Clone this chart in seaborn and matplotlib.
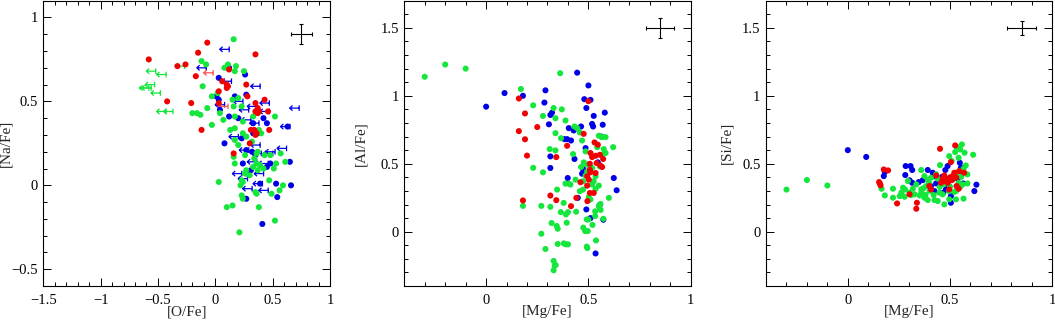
import numpy as np
import pandas as pd
import matplotlib
matplotlib.use("Agg")
import matplotlib.pyplot as plt
from matplotlib.path import Path
from matplotlib.ticker import MultipleLocator, FuncFormatter
import seaborn as sns

# ---------------- data ----------------
# Panel 1: [O/Fe] vs [Na/Fe]
o_red = [-0.58,-0.07,-0.15,-0.26,-0.33,-0.17,0.35,-0.42,-0.21,-0.12,0.03,0.03,0.12,0.06,0.10,0.11,0.10,0.27,0.28,0.35,0.43,0.37,0.38,0.37,0.46,0.35,0.47,0.31,0.34,0.36,0.35,0.30,0.16]
na_red = [0.75,0.85,0.79,0.72,0.71,0.65,0.78,0.50,0.49,0.33,0.56,0.49,0.69,0.62,0.60,0.59,0.58,0.60,0.53,0.49,0.51,0.46,0.44,0.43,0.44,0.44,0.33,0.33,0.33,0.31,0.30,0.25,0.19]
o_red_lim = [-0.06, 0.07]
na_red_lim = [0.67, 0.47]

o_green = [0.16,-0.12,-0.08,0.11,0.18,0.08,0.25,0.17,-0.11,-0.03,
           0.02,-0.07,-0.20,-0.16,-0.13,-0.03,0.07,0.04,0.15,0.20,
           0.16,0.23,0.17,0.13,0.17,0.24,0.24,0.17,0.20,0.27,
           0.33,0.38,0.40,0.32,0.16,0.17,0.26,0.37,0.43,0.48,
           0.57,0.52,0.53,0.61,0.51,0.36,0.39,0.42,0.37,0.33,
           0.27,0.26,0.30,0.23,0.24,0.22,0.47,0.59,0.56,0.49,
           0.35,0.36,0.23,0.24,0.03,0.15,0.10,0.38,0.52,0.21,
           0.36,0.34]
na_green = [0.87,0.74,0.72,0.72,0.71,0.70,0.68,0.68,0.59,0.53,
            0.55,0.46,0.43,0.43,0.42,0.36,0.39,0.43,0.51,0.52,
            0.47,0.47,0.41,0.33,0.34,0.38,0.31,0.27,0.24,0.29,
            0.41,0.33,0.31,0.26,0.17,0.13,0.18,0.20,0.18,0.18,
            0.19,0.41,0.13,0.14,0.10,0.13,0.12,0.10,0.09,0.11,
            0.09,0.07,0.06,0.03,0.02,0.00,0.03,0.00,-0.03,-0.05,
            -0.04,-0.05,-0.06,-0.08,0.02,-0.12,-0.13,-0.13,-0.21,-0.28,
            0.19,0.16]
o_green_lim = [-0.56,-0.47,-0.31,-0.57,-0.62,-0.60,-0.52,-0.47,-0.41]
na_green_lim = [0.68,0.66,0.71,0.60,0.58,0.58,0.55,0.44,0.44]

o_blue = [0.03,0.26,0.12,0.01,0.03,0.04,0.17,0.27,0.12,0.20,
          0.42,0.45,0.33,0.08,0.23,0.27,0.32,0.35,0.24,0.28,
          0.31,0.48,0.65,0.63,0.33,0.37,0.66,0.53,0.54,0.27,
          0.41,0.39,0.45]
na_blue = [0.64,0.66,0.70,0.53,0.51,0.45,0.53,0.54,0.41,0.40,
           0.40,0.37,0.37,0.25,0.28,0.21,0.20,0.18,0.13,0.07,
           0.09,0.13,0.14,0.35,0.31,0.31,0.00,0.01,-0.07,-0.08,
           -0.23,0.01,0.11]
o_blue_lim = [0.08,-0.12,0.35,0.10,0.20,0.04,0.25,0.43,0.43,0.69,
              0.27,0.34,0.32,0.61,0.16,0.35,0.58,0.25,0.36,0.46,
              0.32,0.19,0.24,0.38,0.28,0.37,0.42,0.48,0.42]
na_blue_lim = [0.81,0.70,0.59,0.62,0.50,0.48,0.45,0.49,0.44,0.46,
               0.39,0.37,0.47,0.35,0.29,0.24,0.22,0.21,0.19,0.19,
               0.14,0.07,0.04,0.07,-0.02,0.01,-0.03,0.20,0.13]

# Panel 2: [Mg/Fe] vs [Al/Fe]
mg_green2 = [0.278,0.339,0.388,0.432,0.445,0.458,0.469,0.339,0.366,0.311,
             0.339,0.425,0.486,0.551,0.567,0.584,0.543,0.575,0.584,0.567,
             0.621,0.477,0.494,0.464,0.556,0.518,0.494,0.486,0.535,0.278,
             0.437,0.388,0.404,0.412,0.474,0.526,0.551,0.518,0.347,0.458,
             0.474,0.535,0.502,0.510,0.600,0.379,0.314,0.551,0.559,
             -0.30,-0.20,-0.10,0.17,0.362,0.23,0.33,0.37,0.23,0.18,0.27,
             0.365,0.39,0.40,0.394,0.44,0.32,0.345,0.35,0.27,0.29,
             0.35,0.38,0.39,0.40,0.33,0.335,0.34,0.33,0.475,0.484,
             0.497,0.492,0.50,0.492,0.495,0.537,0.52,0.533,0.533,0.553,
             0.56,0.573]
al_green2 = [0.852,0.835,0.818,0.774,0.762,0.730,0.671,0.725,0.688,0.608,
             0.598,0.571,0.591,0.706,0.696,0.696,0.622,0.608,0.579,0.566,
             0.622,0.510,0.493,0.476,0.481,0.469,0.444,0.412,0.408,0.437,
             0.383,0.354,0.354,0.347,0.371,0.371,0.339,0.347,0.310,0.298,
             0.310,0.315,0.256,0.237,0.249,0.212,0.183,0.188,0.205,
             1.14,1.23,1.20,1.05,1.166,0.93,0.91,0.90,0.47,0.19,0.19,
             0.144,0.127,0.144,0.066,0.147,0.064,0.042,0.022,-0.015,-0.127,
             -0.09,-0.086,-0.093,-0.093,-0.215,-0.25,-0.245,-0.284,0.03,0.005,
             0.005,0.09,0.09,-0.11,-0.12,-0.064,0.05,0.115,0.15,0.183,
             0.16,0.095]
mg_blue2 = [0.322,0.314,0.526,0.580,0.464,0.404,0.428,0.518,0.523,0.383,
            0.396,0.415,0.486,0.314,0.432,0.474,0.469,0.399,0.624,0.638,
            0.448,0.314,0.546,
            0.535,0.573,0.51,0.49,0.555,0.0,0.09,0.18,0.29,0.285,
            0.445,0.50,0.48,0.51,0.49,0.57,0.307,0.563]
al_blue2 = [0.876,0.859,0.852,0.876,0.774,0.762,0.745,0.793,0.774,0.681,
            0.681,0.671,0.615,0.554,0.535,0.461,0.427,0.395,0.395,0.305,
            0.249,0.469,0.510,
            -0.16,0.088,0.10,0.164,0.196,0.92,1.02,1.0,1.04,0.95,
            1.17,1.076,0.975,0.97,0.91,0.787,0.79,0.70]
mg_red2 = [0.477,0.396,0.530,0.546,0.343,0.510,0.518,0.535,0.556,0.572,
           0.507,0.540,0.559,0.567,0.507,0.510,0.535,0.494,0.502,0.461,
           0.494,0.507,0.526,0.314,0.343,0.415,0.441,
           0.16,0.19,0.16,0.19,0.20,0.25,0.18,0.50,0.495]
al_red2 = [0.720,0.632,0.657,0.640,0.549,0.579,0.549,0.559,0.566,0.535,
           0.500,0.505,0.486,0.476,0.456,0.437,0.432,0.408,0.383,0.364,
           0.339,0.285,0.285,0.266,0.232,0.188,0.249,
           0.98,0.87,0.74,0.68,0.56,0.77,0.23,0.96,0.225]

# Panel 3: [Mg/Fe] vs [Si/Fe]
mg_green3 = [0.558,0.532,0.550,0.525,0.571,0.613,0.496,0.542,0.508,0.451,
             0.577,0.566,0.585,0.545,0.532,0.521,0.555,0.359,0.294,0.375,
             0.391,0.407,0.432,0.440,0.399,0.383,0.359,0.335,0.318,0.302,
             0.270,0.262,0.278,0.221,0.165,0.181,0.221,0.254,0.326,0.351,
             0.375,0.391,0.424,0.440,0.472,0.496,0.529,0.566,0.521,0.496,
             0.464,0.448,0.542,0.561,0.585,-0.30,-0.20,-0.10,
             0.36,0.38,0.40,0.42,0.37,0.45,0.47,0.50,0.53,0.55,0.31,0.28]
si_green3 = [0.642,0.625,0.605,0.586,0.581,0.566,0.556,0.544,0.520,0.490,
             0.488,0.463,0.422,0.446,0.434,0.422,0.404,0.454,0.373,0.409,
             0.380,0.397,0.422,0.390,0.355,0.336,0.311,0.348,0.316,0.287,
             0.324,0.287,0.257,0.316,0.316,0.267,0.250,0.262,0.275,0.267,
             0.250,0.233,0.233,0.226,0.201,0.238,0.238,0.243,0.292,0.299,
             0.275,0.287,0.360,0.348,0.355,0.31,0.38,0.34,
             0.29,0.27,0.30,0.27,0.32,0.33,0.35,0.33,0.30,0.33,0.27,0.31]
mg_blue3 = [0.283,0.307,0.315,0.181,0.176,0.281,0.302,0.315,0.391,0.415,
            0.432,0.461,0.477,0.488,0.548,0.553,0.561,0.537,0.564,0.619,
            0.629,0.496,0.480,0.467,0.504,0.504,0.424,0.407,0.432,0.367,
            0.347,0.0,0.09]
si_blue3 = [0.483,0.483,0.454,0.439,0.409,0.417,0.378,0.360,0.454,0.434,
            0.404,0.404,0.454,0.483,0.507,0.471,0.434,0.390,0.355,0.299,
            0.346,0.336,0.311,0.287,0.262,0.213,0.299,0.336,0.355,0.380,
            0.365,0.60,0.55]
mg_red3 = [0.451,0.525,0.504,0.176,0.197,0.153,0.160,0.241,0.302,0.338,
           0.335,0.399,0.407,0.432,0.464,0.477,0.488,0.496,0.513,0.521,
           0.545,0.569,0.532,0.542,0.496,0.456,0.472,
           0.158,0.50,0.49,0.51,0.53,0.48]
si_red3 = [0.610,0.635,0.512,0.458,0.451,0.365,0.341,0.208,0.275,0.213,
           0.169,0.336,0.311,0.414,0.390,0.373,0.360,0.390,0.409,0.434,
           0.446,0.434,0.336,0.316,0.311,0.360,0.414,
           0.352,0.40,0.37,0.38,0.40,0.39]

# typical error bars (x, y, xerr, yerr) per panel
err_x = [0.75, 0.85, 0.85]
err_y = [0.90, 1.50, 1.50]
err_dx = [0.09, 0.07, 0.07]
err_dy = [0.06, 0.075, 0.05]

x_labels = ["[O/Fe]", "[Mg/Fe]", "[Mg/Fe]"]
y_labels = ["[Na/Fe]", "[Al/Fe]", "[Si/Fe]"]

RED = "#f00000"
GREEN = "#14e63c"
BLUE = "#0000e6"

# ---------------- style ----------------
sns.set_style("ticks")
plt.rcParams["font.family"] = ["Liberation Serif", "DejaVu Serif"]
plt.rcParams["axes.linewidth"] = 0.8

fig = plt.figure(figsize=(10.55, 3.2), dpi=100)
positions = [
    [0.0410, 0.106, 0.2718, 0.892],
    [0.3832, 0.106, 0.2715, 0.892],
    [0.7261, 0.106, 0.2713, 0.892],
]
axes = [fig.add_axes(p) for p in positions]
ylabel_x = [-0.106, -0.130, -0.115]

# upper-limit marker: left arrow with bar on the right
lim_verts = [(0.5, -0.3), (0.5, 0.3), (0.5, 0.0), (-0.5, 0.0),
             (-0.2, 0.28), (-0.5, 0.0), (-0.2, -0.28)]
lim_codes = [Path.MOVETO, Path.LINETO, Path.MOVETO, Path.LINETO,
             Path.MOVETO, Path.LINETO, Path.LINETO]
LIM = Path(lim_verts, lim_codes)

S_DOT = 19


def dots(ax, x, y, color):
    df = pd.DataFrame({"x": x, "y": y})
    sns.scatterplot(data=df, x="x", y="y", ax=ax, color=color, s=S_DOT,
                    linewidth=0, edgecolor="none", legend=False, zorder=3)


def limits(ax, x, y, color):
    df = pd.DataFrame({"x": x, "y": y})
    sns.scatterplot(data=df, x="x", y="y", ax=ax, marker=LIM, s=46,
                    color=color, legend=False, zorder=3)
    coll = ax.collections[-1]
    coll.set_facecolor("none")
    coll.set_edgecolor(color)
    coll.set_linewidth(0.9)


ax1, ax2, ax3 = axes
# panel 1
limits(ax1, o_blue_lim, na_blue_lim, BLUE)
limits(ax1, o_green_lim, na_green_lim, GREEN)
limits(ax1, o_red_lim, na_red_lim, "#ff5050")
dots(ax1, o_blue, na_blue, BLUE)
dots(ax1, o_green, na_green, GREEN)
dots(ax1, o_red, na_red, RED)
# panel 2
dots(ax2, mg_blue2, al_blue2, BLUE)
dots(ax2, mg_green2, al_green2, GREEN)
dots(ax2, mg_red2, al_red2, RED)
# panel 3
dots(ax3, mg_blue3, si_blue3, BLUE)
dots(ax3, mg_green3, si_green3, GREEN)
dots(ax3, mg_red3, si_red3, RED)

fmt = FuncFormatter(lambda v, p: ("%g" % round(v, 3)).replace("-", "\u2212"))

for i, ax in enumerate(axes):
    ax.errorbar([err_x[i]], [err_y[i]], xerr=[err_dx[i]], yerr=[err_dy[i]],
                fmt="none", ecolor="black", elinewidth=0.8, capsize=1.6,
                capthick=0.8, zorder=4)
    if i == 0:
        ax.set_xlim(-1.5, 1.0)
        ax.set_ylim(-0.6, 1.1)
    else:
        ax.set_xlim(-0.4, 1.0)
        ax.set_ylim(-0.4, 1.7)
    ax.xaxis.set_major_locator(MultipleLocator(0.5))
    ax.xaxis.set_minor_locator(MultipleLocator(0.1))
    ax.yaxis.set_major_locator(MultipleLocator(0.5))
    ax.yaxis.set_minor_locator(MultipleLocator(0.1))
    ax.xaxis.set_major_formatter(fmt)
    ax.yaxis.set_major_formatter(fmt)
    ax.tick_params(which="both", direction="in", top=True, right=True,
                   labelsize=10.5, colors="black")
    ax.tick_params(axis="x", pad=6)
    ax.tick_params(axis="y", pad=4)
    ax.tick_params(which="major", length=5.5, width=0.7)
    ax.tick_params(which="minor", length=2.6, width=0.7)
    for sp in ax.spines.values():
        sp.set_visible(True)
        sp.set_color("black")
        sp.set_linewidth(0.8)
    ax.set_xlabel(x_labels[i], fontsize=11)
    ax.set_ylabel(y_labels[i], fontsize=11)
    ax.xaxis.set_label_coords(0.5, -0.068)
    ax.yaxis.set_label_coords(ylabel_x[i], 0.5)

fig.savefig("out.png", dpi=100)
